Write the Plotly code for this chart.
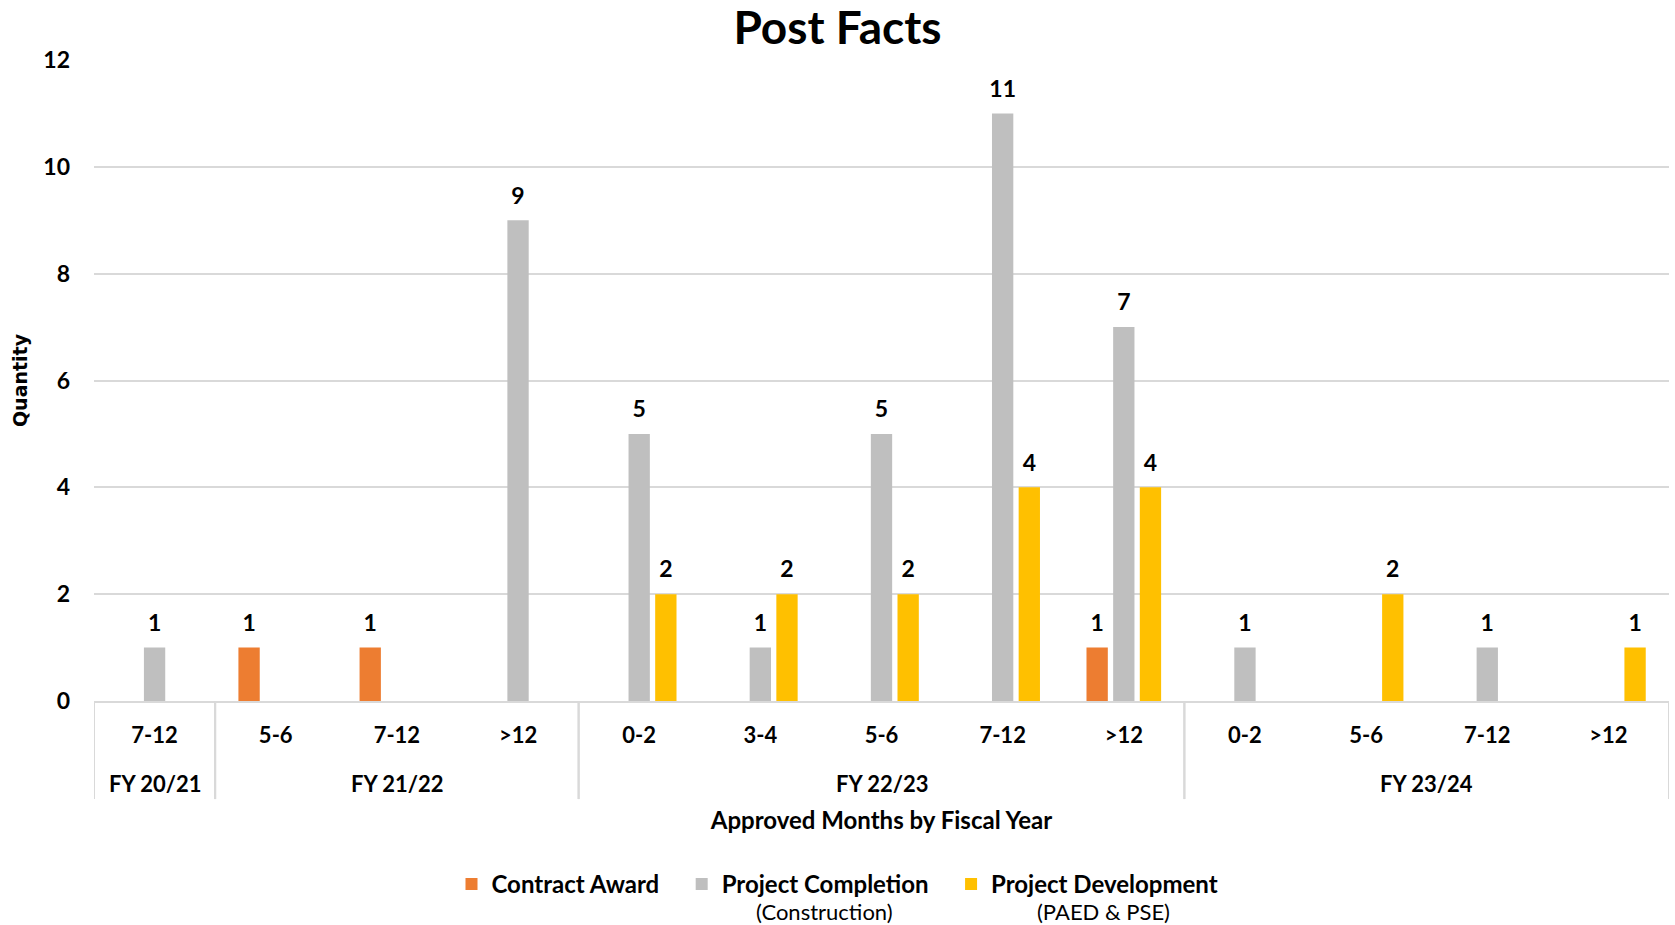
import plotly.graph_objects as go

fiscal_years = ["FY 20/21", "FY 21/22", "FY 21/22", "FY 21/22",
                "FY 22/23", "FY 22/23", "FY 22/23", "FY 22/23", "FY 22/23",
                "FY 23/24", "FY 23/24", "FY 23/24", "FY 23/24"]
months = ["7-12", "5-6", "7-12", ">12",
          "0-2", "3-4", "5-6", "7-12", ">12",
          "0-2", "5-6", "7-12", ">12"]

contract_award = [None, 1, 1, None, None, None, None, None, 1, None, None, None, None]
project_completion = [1, None, None, 9, 5, 1, 5, 11, 7, 1, None, 1, None]
project_development = [None, None, None, None, 2, 2, 2, 4, 4, None, 2, None, 1]

series = [
    ("Contract Award", contract_award, "#ED7D31"),
    ("Project Completion", project_completion, "#BFBFBF"),
    ("Project Development", project_development, "#FFC000"),
]
legend_subtitles = {"Project Completion": "(Construction)",
                    "Project Development": "(PAED & PSE)"}

FONT = "Lato"
GRID = "#D9D9D9"
positions = list(range(len(months)))
PAD = "\u00a0" * 3  # spacing after legend entries

fig = go.Figure()
for k, (name, vals, color) in enumerate(series):
    fig.add_trace(go.Bar(
        x=positions, y=vals, name=name + (PAD if k < len(series) - 1 else ""),
        offsetgroup=str(k), hovertemplate=name + ": %{y}<extra></extra>",
        marker=dict(color=color, line=dict(width=0)),
    ))
for k, (name, vals, color) in enumerate(series):
    # value labels, grouped like the bars and lifted by an invisible marker
    fig.add_trace(go.Scatter(
        x=positions, y=vals, name=name, offsetgroup=str(k), showlegend=False,
        mode="markers+text", marker=dict(size=16, color="rgba(0,0,0,0)"),
        text=[str(v) if v is not None else "" for v in vals],
        textposition="top center", cliponaxis=False, hoverinfo="skip",
        textfont=dict(family=FONT, size=23, color="#000000", weight="bold"),
    ))

fig.update_layout(
    width=1675, height=925,
    paper_bgcolor="white", plot_bgcolor="white",
    margin=dict(l=94, r=6, t=60, b=224, autoexpand=False),
    barmode="group", bargap=0.34, bargroupgap=0.2,
    scattermode="group", scattergap=0.34,
    font=dict(family=FONT, size=22, color="#000000"),
    title=dict(text="<b>Post Facts</b>", x=0.5, xref="container", xanchor="center",
               y=0.97, yanchor="middle",
               font=dict(family=FONT, size=46, color="#000000")),
    showlegend=True,
    legend=dict(orientation="h", xref="container", x=0.5, xanchor="center",
                yref="container", y=0.044, yanchor="middle",
                font=dict(family=FONT, size=24, color="#000000", weight="bold"),
                traceorder="normal"),
)
fig.update_yaxes(range=[0, 12], dtick=2, showgrid=True, gridcolor=GRID, gridwidth=1.5,
                 zeroline=False, showline=False, ticks="", ticklabelstandoff=23,
                 tickfont=dict(family=FONT, size=23, weight="bold"),
                 automargin=False,
                 title=dict(text="<b>Quantity</b>", standoff=10,
                            font=dict(family="DejaVu Sans", size=19)))
fig.update_xaxes(range=[-0.5, len(months) - 0.5], tickmode="array",
                 tickvals=positions, ticktext=months,
                 showline=True, linecolor=GRID, linewidth=2, showgrid=False,
                 ticks="", ticklabelstandoff=14, automargin=False,
                 tickfont=dict(family=FONT, size=22, weight="bold"),
                 title=dict(text="<b>Approved Months by Fiscal Year</b>", standoff=65,
                            font=dict(family=FONT, size=24)))

# fiscal-year group labels and dividers
groups = []
for i, fy in enumerate(fiscal_years):
    if groups and groups[-1][0] == fy:
        groups[-1][2] = i
    else:
        groups.append([fy, i, i])
for fy, start, end in groups:
    fig.add_annotation(text=f"<b>{fy}</b>", xref="x", yref="paper",
                       x=(start + end) / 2, y=-0.128, xanchor="center", yanchor="middle",
                       showarrow=False, font=dict(family=FONT, size=22, color="#000000"))
    for edge in (start - 0.5, end + 0.5):
        fig.add_shape(type="line", xref="x", yref="paper", x0=edge, x1=edge,
                      y0=0, y1=-0.153, line=dict(color=GRID, width=2))

fig.add_annotation(text=legend_subtitles["Project Completion"], xref="paper", yref="paper",
                   x=0.464, y=-0.328, xanchor="center", yanchor="middle", showarrow=False,
                   font=dict(family=FONT, size=22, color="#000000"))
fig.add_annotation(text=legend_subtitles["Project Development"], xref="paper", yref="paper",
                   x=0.641, y=-0.328, xanchor="center", yanchor="middle", showarrow=False,
                   font=dict(family=FONT, size=22, color="#000000"))

fig.write_html("out.html", config={"displayModeBar": False},
               post_script="document.body.style.margin='0px';")
